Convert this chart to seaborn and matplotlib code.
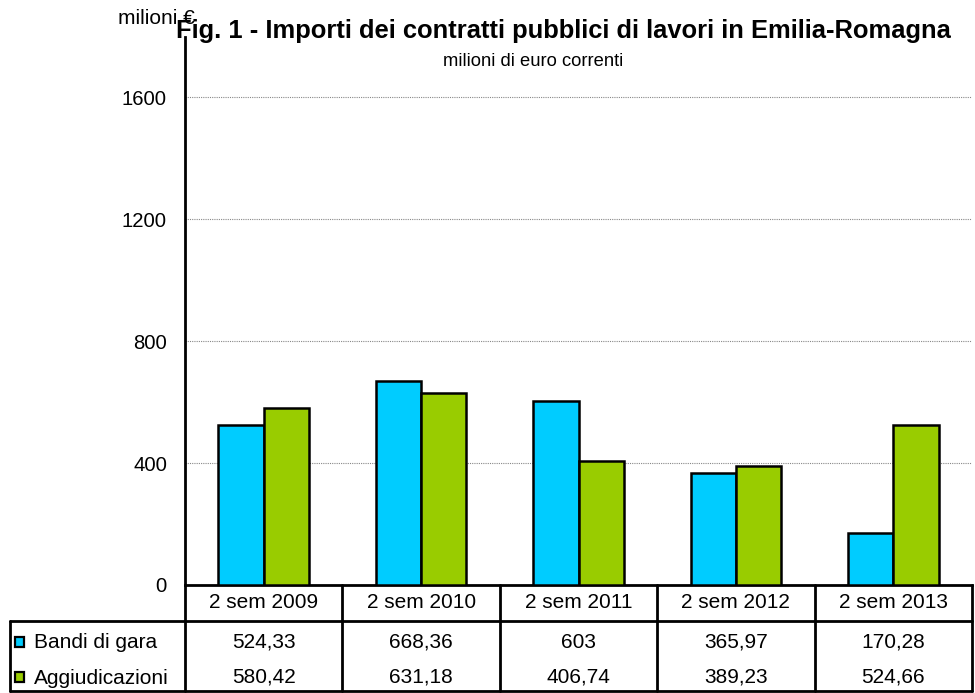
import matplotlib
matplotlib.use("Agg")
import matplotlib.pyplot as plt
import seaborn as sns
import pandas as pd
from matplotlib.lines import Line2D
from matplotlib.patches import Rectangle

categories = ["2 sem 2009", "2 sem 2010", "2 sem 2011", "2 sem 2012", "2 sem 2013"]
bandi = [524.33, 668.36, 603, 365.97, 170.28]
aggiud = [580.42, 631.18, 406.74, 389.23, 524.66]
bandi_lbl = ["524,33", "668,36", "603", "365,97", "170,28"]
aggiud_lbl = ["580,42", "631,18", "406,74", "389,23", "524,66"]
series = ["Bandi di gara", "Aggiudicazioni"]
colors = ["#00CCFF", "#99CC00"]
yticks = [0, 400, 800, 1200, 1600]

sns.set_theme(style="white")
plt.rcParams['font.family'] = ['Liberation Sans', 'DejaVu Sans']
plt.rcParams['text.color'] = 'black'
plt.rcParams['ytick.color'] = 'black'
plt.rcParams['xtick.color'] = 'black'

W, H = 975, 693
fig = plt.figure(figsize=(W / 100, H / 100), dpi=100)

def fx(x):
    return x / W

def fy(y):
    return 1 - y / H

ax_l, ax_r, ax_t, ax_b = 185, 972, 37, 585
ax = fig.add_axes([fx(ax_l), fy(ax_b), fx(ax_r) - fx(ax_l), fy(ax_t) - fy(ax_b)])

df = pd.DataFrame({
    "cat": categories * 2,
    "val": bandi + aggiud,
    "serie": [series[0]] * 5 + [series[1]] * 5,
})
sns.barplot(data=df, x="cat", y="val", hue="serie", palette=colors, saturation=1,
            edgecolor="black", linewidth=1.8, width=0.575, dodge=True,
            legend=False, ax=ax, zorder=3)

ax.set_ylim(0, 1797)
ax.set_xlim(-0.5, 4.5)
ax.set_yticks(yticks)
ax.set_yticklabels([str(v) for v in yticks], fontsize=14.6)
ax.set_xticks([])
ax.set_xlabel("")
ax.set_ylabel("")
ax.tick_params(axis="y", length=0, pad=13)
for v in yticks[1:]:
    ax.axhline(v, color="#888888", linestyle=(0, (1, 1)), linewidth=0.8, zorder=1)
for s in ["top", "right"]:
    ax.spines[s].set_visible(False)
ax.spines["left"].set_color("black")
ax.spines["left"].set_linewidth(2)
ax.spines["bottom"].set_color("black")
ax.spines["bottom"].set_linewidth(2)

# titles
fig.text(fx(156), fy(18), "milioni €", ha="center", va="center", fontsize=15)
fig.text(fx(563), fy(31), "Fig. 1 - Importi dei contratti pubblici di lavori in Emilia-Romagna",
         ha="center", va="center", fontsize=18.4, fontweight="bold")
fig.text(fx(533), fy(62), "milioni di euro correnti", ha="center", va="center",
         fontsize=13.2)

# data table
col_w = (ax_r - ax_l) / 5
hdr_bot = 621
tbl_bot = 691
lw = 2
def hline(x0, x1, y):
    fig.add_artist(Line2D([fx(x0), fx(x1)], [fy(y), fy(y)], color="black", linewidth=lw))
def vline(x, y0, y1):
    fig.add_artist(Line2D([fx(x), fx(x)], [fy(y0), fy(y1)], color="black", linewidth=lw))

hline(10, ax_r, hdr_bot)
hline(10, ax_r, tbl_bot)
vline(10, hdr_bot, tbl_bot)
for i in range(6):
    vline(ax_l + i * col_w, ax_b, tbl_bot)

row_y = [642, 677]
for i, c in enumerate(categories):
    cx = ax_l + (i + 0.5) * col_w
    fig.text(fx(cx), fy(603), c, ha="center", va="center", fontsize=15)
    fig.text(fx(cx), fy(row_y[0]), bandi_lbl[i], ha="center", va="center", fontsize=15)
    fig.text(fx(cx), fy(row_y[1]), aggiud_lbl[i], ha="center", va="center", fontsize=15)

for j, (name, col) in enumerate(zip(series, colors)):
    fig.add_artist(Rectangle((fx(15), fy(row_y[j] + 5)), fx(9), 10 / H,
                             facecolor=col, edgecolor="black", linewidth=1.6))
    fig.text(fx(34), fy(row_y[j] + 1), name, ha="left", va="center", fontsize=15)

fig.savefig("out.png", dpi=100)
